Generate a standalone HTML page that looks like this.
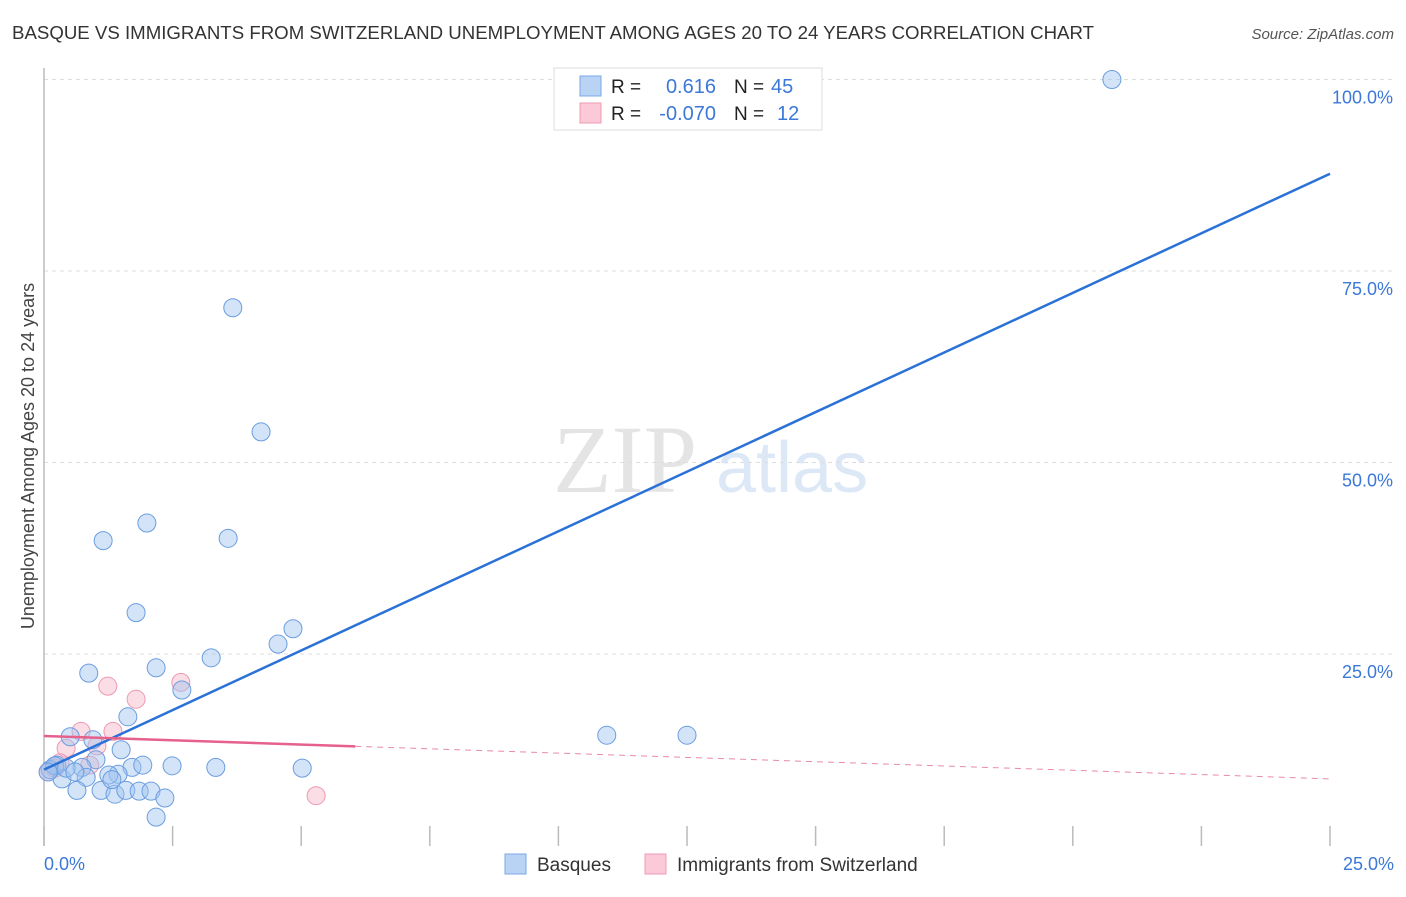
<!DOCTYPE html>
<html><head><meta charset="utf-8"><style>
body{margin:0;background:#fff;font-family:"Liberation Sans",sans-serif;}
svg text{font-family:"Liberation Sans",sans-serif;}
</style></head><body>
<svg id="chart" width="1406" height="892" xmlns="http://www.w3.org/2000/svg">
<text x="12" y="39" font-size="18" fill="#333" textLength="1082" lengthAdjust="spacingAndGlyphs">BASQUE VS IMMIGRANTS FROM SWITZERLAND UNEMPLOYMENT AMONG AGES 20 TO 24 YEARS CORRELATION CHART</text>
<text x="1394" y="39" font-size="15" fill="#555" font-style="italic" text-anchor="end">Source: ZipAtlas.com</text>
<g>
<text x="553" y="492" font-size="96" fill="#e4e4e4" font-family="Liberation Serif" style="font-family:'Liberation Serif',serif">ZIP</text>
<text x="716" y="492" font-size="72" fill="#dde8f7">atlas</text>
</g>
<g id="grid"></g>
<g id="ticks"></g>
<line x1="44" y1="68" x2="44" y2="846" stroke="#bbb" stroke-width="1.5"/>
<text transform="translate(34,456) rotate(-90)" font-size="18" fill="#444" text-anchor="middle">Unemployment Among Ages 20 to 24 years</text>
<text x="44" y="870" font-size="18" fill="#3b78d8">0.0%</text>
<text x="1394" y="870" font-size="18" fill="#3b78d8" text-anchor="end">25.0%</text>
<g id="pts"></g>
<g id="trends"></g>
<g>
<rect x="554" y="68" width="268" height="62" fill="#fff" stroke="#ddd"/>
<rect x="580" y="76" width="21" height="20" fill="#b9d3f5" stroke="#7aa7e6"/>
<rect x="580" y="103" width="21" height="20" fill="#fbc9d7" stroke="#ee9bb3"/>
<text x="611" y="93" font-size="19" fill="#222">R = </text><text x="716" y="93" font-size="20" fill="#3b78d8" text-anchor="end">0.616</text>
<text x="734" y="93" font-size="19" fill="#222">N = </text><text x="771" y="93" font-size="20" fill="#3b78d8">45</text>
<text x="611" y="120" font-size="19" fill="#222">R = </text><text x="716" y="120" font-size="20" fill="#3b78d8" text-anchor="end">-0.070</text>
<text x="734" y="120" font-size="19" fill="#222">N = </text><text x="777" y="120" font-size="20" fill="#3b78d8">12</text>
</g>
<g>
<rect x="505" y="854" width="21" height="20" fill="#b9d3f5" stroke="#7aa7e6"/>
<text x="537" y="871" font-size="19" fill="#333">Basques</text>
<rect x="645" y="854" width="21" height="20" fill="#fbc9d7" stroke="#ee9bb3"/>
<text x="677" y="871" font-size="19" fill="#333">Immigrants from Switzerland</text>
</g>
</svg>
<script>
const yTicks=[25,50,75,100];
const yTickLabels=["25.0%","50.0%","75.0%","100.0%"];
const xTicks=[0,2.5,5,7.5,10,12.5,15,17.5,20,22.5,25];
const basqueX=[20.76,3.67,4.22,2.00,1.15,3.58,1.79,4.84,4.55,3.25,2.18,0.87,2.68,1.63,10.94,12.50,0.51,0.95,1.50,1.01,0.25,0.74,0.12,1.71,1.92,2.49,3.34,5.02,1.44,1.26,0.82,0.35,0.64,1.11,1.38,1.59,1.85,2.08,2.35,2.18,0.21,0.08,0.43,0.60,1.32];
const basqueY=[100,70.2,54.0,42.1,39.8,40.1,30.4,28.3,26.3,24.5,23.2,22.5,20.3,16.8,14.4,14.4,14.2,13.8,12.5,11.2,10.5,10.2,9.9,10.2,10.5,10.4,10.2,10.1,9.3,9.2,8.9,8.7,7.2,7.2,6.7,7.2,7.1,7.1,6.2,3.7,10.4,9.6,10.1,9.6,8.6];
const swissX=[1.24,1.79,2.66,0.72,1.34,0.43,1.03,0.89,0.21,0.08,5.29,0.31];
const swissY=[20.8,19.1,21.3,14.9,14.9,12.7,13.0,10.5,10.1,9.6,6.5,10.8];
const basqueTrend=[9.9,87.7];
const swissTrend=[14.3,8.7];
const swissSolidEnd=6.05;
const NS="http://www.w3.org/2000/svg";
const sx=v=>44+v*51.44, sy=v=>845.5-v*7.66;
function mk(t,a,p){const e=document.createElementNS(NS,t);for(const k in a)e.setAttribute(k,a[k]);p.appendChild(e);return e;}
const grid=document.getElementById('grid');
yTicks.forEach((t,i)=>{
 const l=mk('line',{x1:44,x2:1394,y1:sy(t),y2:sy(t),stroke:'#ddd','stroke-dasharray':'4,4'},grid);
 
 
 const tx=mk('text',{x:1393,y:sy(t)+24,'font-size':18,fill:'#3b78d8','text-anchor':'end'},grid);
 tx.textContent=yTickLabels[i];
 
 
});
const ticks=document.getElementById('ticks');
xTicks.forEach(t=>{
 const l=mk('line',{x1:sx(t),x2:sx(t),y1:826,y2:846,stroke:'#bbb','stroke-width':1.5},ticks);
 
 
});
const pts=document.getElementById('pts');
swissX.forEach((x,i)=>{
 const c=mk('circle',{cx:sx(x),cy:sy(swissY[i]),r:9,fill:'rgba(246,170,192,0.4)',stroke:'#eb9ab2','stroke-width':1},pts);
 
 
});
basqueX.forEach((x,i)=>{
 const c=mk('circle',{cx:sx(x),cy:sy(basqueY[i]),r:9,fill:'rgba(160,196,240,0.45)',stroke:'#6a9de0','stroke-width':1},pts);
 
 
});
const tr=document.getElementById('trends');
const bl=mk('line',{x1:sx(0),y1:sy(basqueTrend[0]),x2:sx(25),y2:sy(basqueTrend[1]),stroke:'#2a72d8','stroke-width':2.5},tr);


const swAt=x=>swissTrend[0]+(swissTrend[1]-swissTrend[0])*x/25;
const sl=mk('line',{x1:sx(0),y1:sy(swissTrend[0]),x2:sx(swissSolidEnd),y2:sy(swAt(swissSolidEnd)),stroke:'#e5608a','stroke-width':2.5},tr);


const sd=mk('line',{x1:sx(swissSolidEnd),y1:sy(swAt(swissSolidEnd)),x2:sx(25),y2:sy(swissTrend[1]),stroke:'#e98aa8','stroke-width':1,'stroke-dasharray':'6,5'},tr);


</script>
</body></html>
